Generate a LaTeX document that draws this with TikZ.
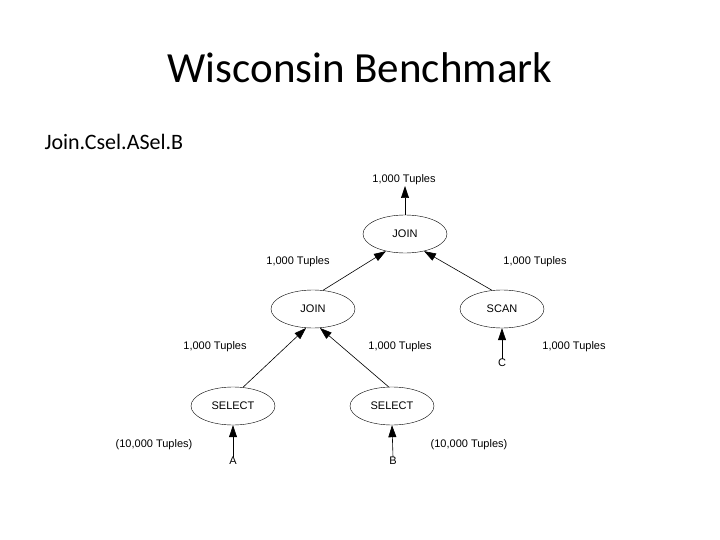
\documentclass[tikz,border=0pt]{standalone}
\usepackage{fontspec}
\setmainfont{Carlito}
\newfontfamily\arialf{Liberation Sans}
\usetikzlibrary{arrows.meta,shapes.geometric}
\begin{document}
\begin{tikzpicture}[x=1pt,y=-1pt,
  op/.style={draw,ellipse,minimum width=84pt,minimum height=38pt,inner sep=0pt,font=\arialf\fontsize{11}{12}\selectfont},
  lbl/.style={font=\arialf\fontsize{11}{12}\selectfont,inner sep=0pt},
  arr/.style={-{Triangle[length=12pt,width=8pt]},line width=0.6pt}]
\useasboundingbox (0,0) rectangle (720,540);
\node[font=\fontsize{43}{46}\selectfont] (title) at (360,68) {Wisconsin Benchmark};
\node[font=\fontsize{22}{24}\selectfont,anchor=west] (sub) at (41,142) {Join.Csel.ASel.B};
\node[op] (j1) at (405,234) {JOIN};
\node[op] (j2) at (313,309) {JOIN};
\node[op] (sc) at (502,309) {SCAN};
\node[op] (s1) at (233,406) {SELECT};
\node[op] (s2) at (392,406) {SELECT};
\node[lbl] (t0) at (404,180) {1,000 Tuples};
\node[lbl] (t1) at (298,262) {1,000 Tuples};
\node[lbl] (t2) at (535,262) {1,000 Tuples};
\node[lbl] (t3) at (215,347) {1,000 Tuples};
\node[lbl] (t4) at (400,347) {1,000 Tuples};
\node[lbl] (t5) at (574,347) {1,000 Tuples};
\node[lbl] (t6) at (154,445) {(10,000 Tuples)};
\node[lbl] (t7) at (469,445) {(10,000 Tuples)};
\node[lbl] (A) at (233,461) {A};
\node[lbl] (B) at (393,461) {B};
\node[lbl] (C) at (502,363) {C};
\coordinate (top) at (405,186);
\draw[arr] (j1.north) -- (top);
\draw[arr] (j2.62) -- (j1.222);
\draw[arr] (sc.118) -- (j1.318);
\draw[arr] (s1.62) -- (j2.250);
\draw[arr] (s2.100) -- (j2.290);
\draw[arr] (A.north) -- (s1.south);
\draw[arr] (B.north) -- (s2.south);
\draw[arr] (C.north) -- (sc.south);
\end{tikzpicture}
\end{document}
